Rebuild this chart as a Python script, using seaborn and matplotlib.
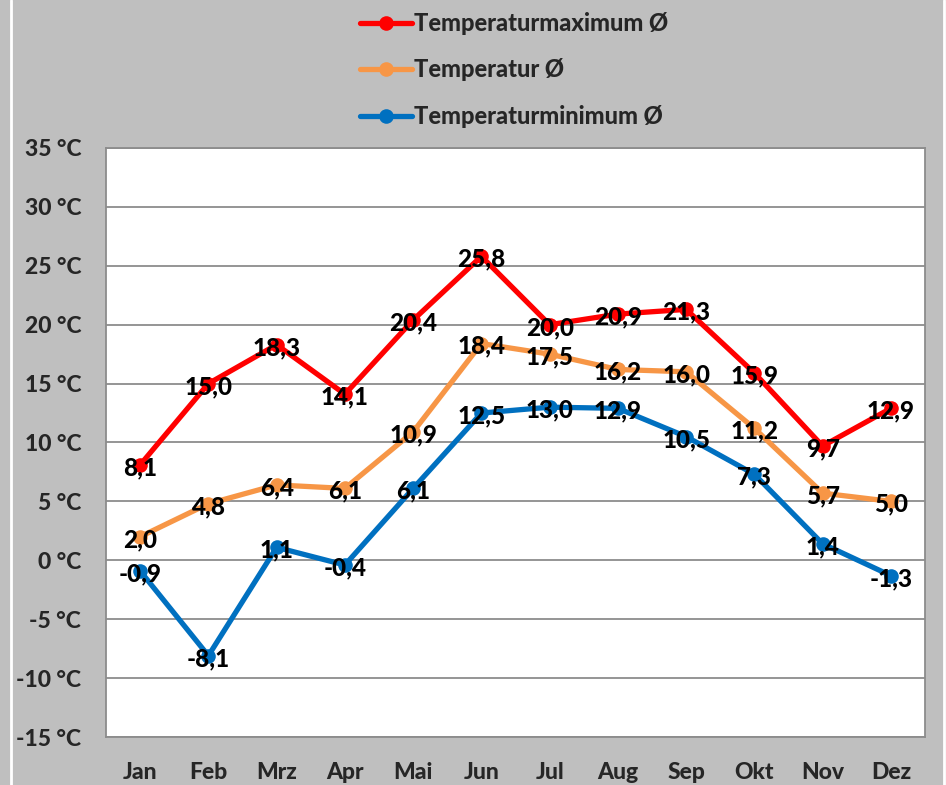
import pandas as pd
import numpy as np
import matplotlib.pyplot as plt
import seaborn as sns
from matplotlib.lines import Line2D

# ----------------------
# Data
# ----------------------
months = ['Jan', 'Feb', 'Mrz', 'Apr', 'Mai', 'Jun', 'Jul', 'Aug', 'Sep', 'Okt', 'Nov', 'Dez']
t_max = [8.1, 15.0, 18.3, 14.1, 20.4, 25.8, 20.0, 20.9, 21.3, 15.9, 9.7, 12.9]
t_mean = [2.0, 4.8, 6.4, 6.1, 10.9, 18.4, 17.5, 16.2, 16.0, 11.2, 5.7, 5.0]
t_min = [-0.9, -8.1, 1.1, -0.4, 6.1, 12.5, 13.0, 12.9, 10.5, 7.3, 1.4, -1.3]
y_ticks = [-15, -10, -5, 0, 5, 10, 15, 20, 25, 30, 35]

series = ['Temperaturmaximum Ø', 'Temperatur Ø', 'Temperaturminimum Ø']
colors = ['#ff0000', '#f79646', '#0070c0']

df = pd.DataFrame({
    'idx': list(range(12)) * 3,
    'temp': t_max + t_mean + t_min,
    'series': [series[0]] * 12 + [series[1]] * 12 + [series[2]] * 12,
})

# ----------------------
# Plot
# ----------------------
sns.set_theme(style='white')
plt.rcParams['font.family'] = ['Lato', 'DejaVu Sans']
W = 'black'  # heaviest available weight

bg = '#bfbfbf'
fig = plt.figure(figsize=(9.46, 7.85), dpi=100, facecolor=bg)
ax = fig.add_axes([106 / 946, 1 - 737 / 785, (925 - 106) / 946, (737 - 148) / 785])
ax.set_facecolor('white')

sns.lineplot(data=df, x='idx', y='temp', hue='series', hue_order=series,
             palette=colors, marker='o', markersize=10.5, markeredgewidth=0,
             linewidth=3.8, ax=ax, legend=False, zorder=3)

# value labels centered on the points
for vals in [t_max, t_mean, t_min]:
    for i, v in enumerate(vals):
        ax.annotate(f"{v:.1f}".replace('.', ','), (i, v), xytext=(0, -2),
                    textcoords='offset points', ha='center', va='center',
                    fontsize=17.5, fontweight=W, color='black', zorder=5)

ax.set_xlim(-0.5, 11.5)
ax.set_ylim(-15, 35)
ax.set_yticks(y_ticks)
ax.set_yticklabels([f"{t} °C" for t in y_ticks])
ax.set_xticks(range(12))
ax.set_xticklabels(months)
ax.set_xlabel('')
ax.set_ylabel('')
ax.tick_params(axis='y', length=0, pad=18, labelsize=16.5)
ax.tick_params(axis='x', length=0, pad=18, labelsize=16.5)
for lab in ax.get_xticklabels() + ax.get_yticklabels():
    lab.set_fontweight(W)
ax.grid(axis='y', color='#8c8c8c', linewidth=1.3)
ax.set_axisbelow(True)
for s in ax.spines.values():
    s.set_color('#8c8c8c')
    s.set_linewidth(1.3)

# legend at the top
handles = [Line2D([0], [0], color=c, linewidth=3.8, marker='o', markersize=10.5,
                  markeredgewidth=0) for c in colors]
fig.legend(handles, series, loc='upper left', bbox_to_anchor=(348 / 946, 1 - 0 / 785),
           frameon=False, borderpad=0, handlelength=2.2, handletextpad=0.1,
           labelspacing=1.0, prop={'size': 17, 'weight': W})

# thin white border lines of the chart frame
fig.add_artist(Line2D([11 / 946, 11 / 946], [0, 1], color='white', linewidth=2,
                      transform=fig.transFigure))
fig.add_artist(Line2D([944 / 946, 944 / 946], [0, 1], color='white', linewidth=2,
                      transform=fig.transFigure))

fig.savefig('out.png', dpi=100, facecolor=bg)
